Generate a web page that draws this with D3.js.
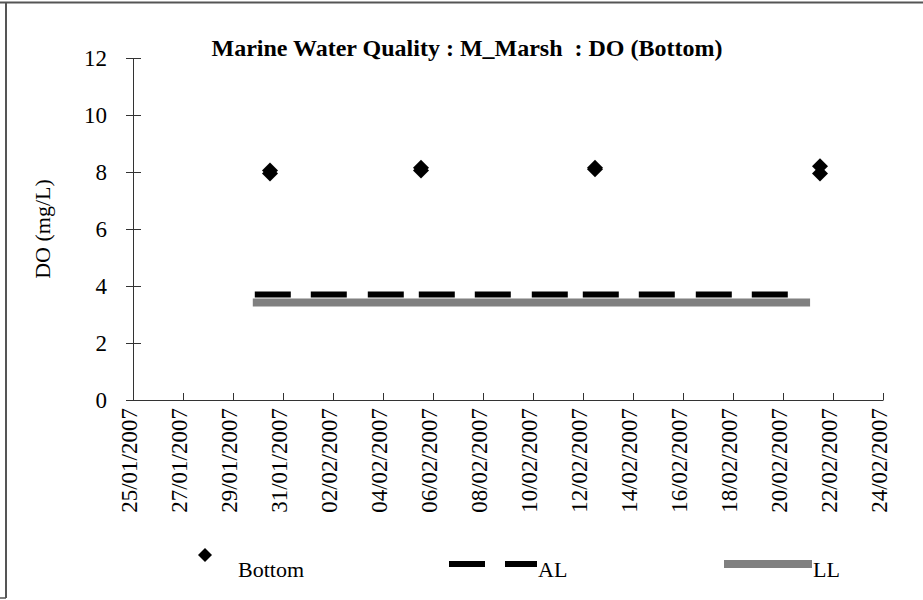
<!DOCTYPE html>
<html>
<head>
<meta charset="utf-8">
<script src="https://cdn.jsdelivr.net/npm/d3@7"></script>
<style>
  html, body { margin: 0; padding: 0; background: #fff; }
  svg { display: block; }
  text { font-family: "Liberation Serif", "Times New Roman", serif; fill: #000; }
</style>
</head>
<body>
<svg id="chart" width="923" height="600"></svg>
<script>
// ---- data ----
const titleText = "Marine Water Quality : M_Marsh  : DO (Bottom)";
const yLabel = "DO (mg/L)";
const tickLabels = ["25/01/2007","27/01/2007","29/01/2007","31/01/2007","02/02/2007","04/02/2007",
  "06/02/2007","08/02/2007","10/02/2007","12/02/2007","14/02/2007","16/02/2007","18/02/2007",
  "20/02/2007","22/02/2007","24/02/2007"];
const yTicks = [0, 2, 4, 6, 8, 10, 12];
const bottomDates = ["2007-01-30T11:30","2007-01-30T11:30","2007-02-05T12:30","2007-02-05T12:30",
  "2007-02-12T11:30","2007-02-12T11:30","2007-02-21T11:30","2007-02-21T11:30"];
const bottomValues = [8.05, 7.95, 8.15, 8.05, 8.15, 8.1, 8.2, 7.95];
const limitDates = ["2007-01-29T19:00", "2007-02-21T02:00"];
const alValues = [3.7, 3.7];
const llValues = [3.42, 3.42];
const legendNames = ["Bottom", "AL", "LL"];

// ---- drawing ----
const parse = d3.timeParse("%d/%m/%Y");
const parseT = d3.isoParse;
const svg = d3.select("#chart");
svg.append("rect").attr("width", 923).attr("height", 600).attr("fill", "#fff");

// frame
svg.append("line").attr("x1", 0).attr("x2", 923).attr("y1", 2.5).attr("y2", 2.5)
  .attr("stroke", "#555").attr("stroke-width", 2);
svg.append("line").attr("x1", 6).attr("x2", 6).attr("y1", 2).attr("y2", 598)
  .attr("stroke", "#555").attr("stroke-width", 2);
svg.append("line").attr("x1", 0).attr("x2", 6).attr("y1", 598).attr("y2", 598)
  .attr("stroke", "#555").attr("stroke-width", 1.5);

const x = d3.scaleTime()
  .domain([parse(tickLabels[0]), parse(tickLabels[tickLabels.length - 1])])
  .range([133, 883]);
const y = d3.scaleLinear().domain([0, 12]).range([400, 58]);

const axisColor = "#333";

// Y axis
const yAxis = svg.append("g").attr("transform", "translate(133,0)")
  .call(d3.axisLeft(y).tickValues(yTicks).tickSize(7).tickPadding(19).tickFormat(d3.format("d")));
yAxis.select(".domain").attr("stroke", axisColor);
yAxis.selectAll(".tick line").attr("stroke", axisColor).attr("x2", 8).attr("x1", -7);
yAxis.selectAll(".tick text").attr("font-size", 23).attr("font-family", "Liberation Serif");

// X axis
const xAxis = svg.append("g").attr("transform", "translate(0,400)")
  .call(d3.axisBottom(x).tickValues(tickLabels.map(parse)).tickSize(0).tickFormat((d, i) => tickLabels[i]));
xAxis.select(".domain").attr("stroke", axisColor);
xAxis.selectAll(".tick line").attr("stroke", axisColor).attr("y1", 0).attr("y2", -7);
xAxis.selectAll(".tick text")
  .attr("font-size", 23).attr("font-family", "Liberation Serif")
  .attr("text-anchor", "end")
  .attr("transform", "rotate(-90)")
  .attr("x", -8).attr("y", 0).attr("dy", "0.17em");

// title
svg.append("text").attr("x", 467).attr("y", 56).attr("text-anchor", "middle")
  .attr("font-size", 24).attr("font-weight", "bold").style("white-space", "pre").text(titleText);

// y label
svg.append("text").attr("transform", "translate(50,229) rotate(-90)")
  .attr("text-anchor", "middle").attr("font-size", 22).text(yLabel);

// limit lines
const lineGen = d3.line().x(d => x(d[0])).y(d => y(d[1]));
const llData = limitDates.map((d, i) => [parseT(d), llValues[i]]);
const alData = limitDates.map((d, i) => [parseT(d), alValues[i]]);
svg.append("path").datum(llData).attr("d", lineGen).attr("fill", "none")
  .attr("stroke", "#808080").attr("stroke-width", 8);
svg.append("path").datum(alData).attr("d", lineGen).attr("fill", "none")
  .attr("stroke", "#000").attr("stroke-width", 6)
  .attr("stroke-dasharray", "36,20,36,21,36,15,36,20,36,21,36,15,36,20,36,21,36,20,36,80")
  .attr("transform", "translate(2,0)");

// diamonds
const diamond = s => `M0,${-s}L${s},0L0,${s}L${-s},0Z`;
svg.append("g").selectAll("path").data(bottomDates.map((d, i) => [parseT(d), bottomValues[i]]))
  .join("path")
  .attr("d", diamond(8))
  .attr("transform", d => `translate(${x(d[0])},${y(d[1])})`)
  .attr("fill", "#000");

// legend
const lg = svg.append("g");
lg.append("path").attr("d", diamond(7)).attr("transform", "translate(205,555)").attr("fill", "#000");
lg.append("text").attr("x", 238).attr("y", 577).attr("font-size", 22).text(legendNames[0]);
lg.append("line").attr("x1", 449).attr("x2", 537).attr("y1", 564).attr("y2", 564)
  .attr("stroke", "#000").attr("stroke-width", 6).attr("stroke-dasharray", "36,20");
lg.append("text").attr("x", 538).attr("y", 577).attr("font-size", 22).text(legendNames[1]);
lg.append("line").attr("x1", 724).attr("x2", 812).attr("y1", 564).attr("y2", 564)
  .attr("stroke", "#808080").attr("stroke-width", 8);
lg.append("text").attr("x", 813).attr("y", 577).attr("font-size", 22).text(legendNames[2]);
</script>
</body>
</html>
